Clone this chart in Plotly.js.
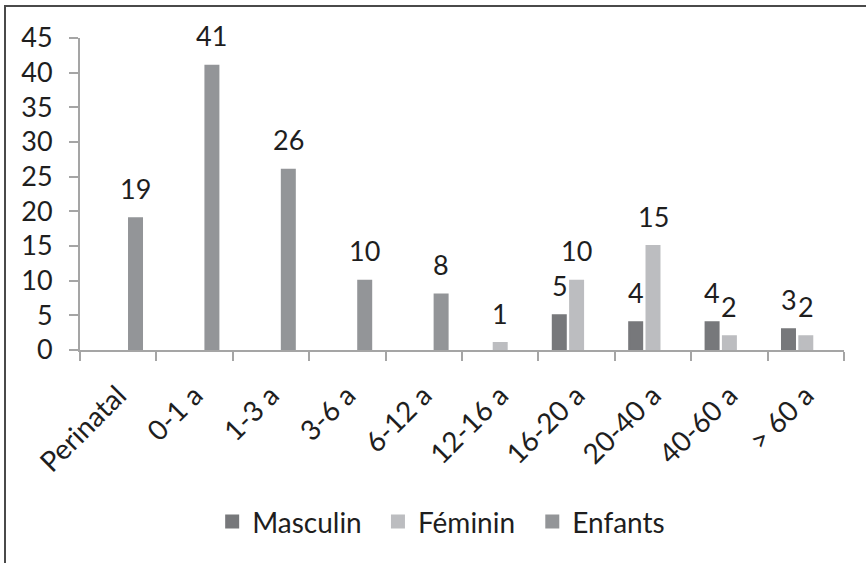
<!DOCTYPE html>
<html>
<head>
<meta charset="utf-8">
<script src="https://cdn.plot.ly/plotly-3.0.1.min.js"></script>
<style>
  html, body { margin: 0; padding: 0; background: #fff; }
  #wrap { position: relative; width: 866px; height: 563px; overflow: hidden; }
  #chart { position: absolute; left: 0; top: 0; width: 866px; height: 563px; }
  #frame { position: absolute; left: 4px; top: 5px; width: 870px; height: 570px;
           border-left: 2px solid #4a4a4a; border-top: 2px solid #4a4a4a; pointer-events: none; }
</style>
</head>
<body>
<div id="wrap"><div id="chart"></div><div id="frame"></div></div>
<script>
const categories = ['Perinatal', '0-1 a', '1-3 a', '3-6 a', '6-12 a', '12-16 a', '16-20 a', '20-40 a', '40-60 a', '> 60 a'];
const masculin = [null, null, null, null, null, null, 5, 4, 4, 3];
const feminin  = [null, null, null, null, null, 1, 10, 15, 2, 2];
const enfants  = [19, 41, 26, 10, 8, null, null, null, null, null];
const yTicks   = [0, 5, 10, 15, 20, 25, 30, 35, 40, 45];

const FONT = 'Lato, "Open Sans", sans-serif';
const TXT = '#1e1e1e';

const series = [
  {name: 'Masculin', values: masculin, color: '#77787b', shift: -17, legend: 'legend',  lx: 0.173},
  {name: 'Féminin',  values: feminin,  color: '#bcbdc0', shift: 0,   legend: 'legend2', lx: 0.390},
  {name: 'Enfants',  values: enfants,  color: '#939598', shift: 17,  legend: 'legend3', lx: 0.592}
];

const traces = series.map(s => ({
  type: 'bar',
  name: s.name,
  x: categories,
  y: s.values,
  legend: s.legend,
  marker: {color: s.color, line: {color: s.color, width: 2}},
  hoverinfo: 'x+y+name'
}));

const annotations = [];
series.forEach(s => {
  s.values.forEach((v, i) => {
    if (v === null) return;
    annotations.push({
      x: categories[i], y: v, xref: 'x', yref: 'y',
      text: String(v), showarrow: false,
      xanchor: 'center', yanchor: 'middle',
      xshift: s.shift, yshift: 30,
      font: {family: FONT, size: 27, color: TXT}
    });
  });
});

const layout = {
  width: 866, height: 563,
  margin: {l: 80, r: 22, t: 38, b: 213},
  paper_bgcolor: '#ffffff', plot_bgcolor: '#ffffff',
  barmode: 'group', bargap: 0.32, bargroupgap: 0.25,
  showlegend: true,
  xaxis: {
    type: 'category', tickangle: -45, tickson: 'boundaries',
    ticks: 'outside', ticklen: 9, tickcolor: '#a5a5a5', tickwidth: 2,
    showline: true, linecolor: '#a5a5a5', linewidth: 2,
    showgrid: false, zeroline: false,
    ticklabelstandoff: 16,
    tickfont: {family: FONT, size: 28, color: TXT},
    fixedrange: true
  },
  yaxis: {
    range: [0, 45], tickvals: yTicks, ticktext: yTicks.map(String),
    ticks: 'outside', ticklen: 9, tickcolor: '#a5a5a5', tickwidth: 2,
    showline: true, linecolor: '#a5a5a5', linewidth: 2,
    showgrid: false, zeroline: false,
    ticklabelstandoff: 11,
    tickfont: {family: FONT, size: 27, color: TXT},
    fixedrange: true
  },
  annotations: annotations,
  font: {family: FONT, color: TXT}
};

series.forEach(s => {
  layout[s.legend] = {
    orientation: 'h', x: s.lx, xanchor: 'left', y: -0.551, yanchor: 'middle',
    font: {family: FONT, size: 28, color: TXT}, bgcolor: 'rgba(0,0,0,0)'
  };
});

Plotly.newPlot('chart', traces, layout, {displayModeBar: false, staticPlot: true});
</script>
</body>
</html>
